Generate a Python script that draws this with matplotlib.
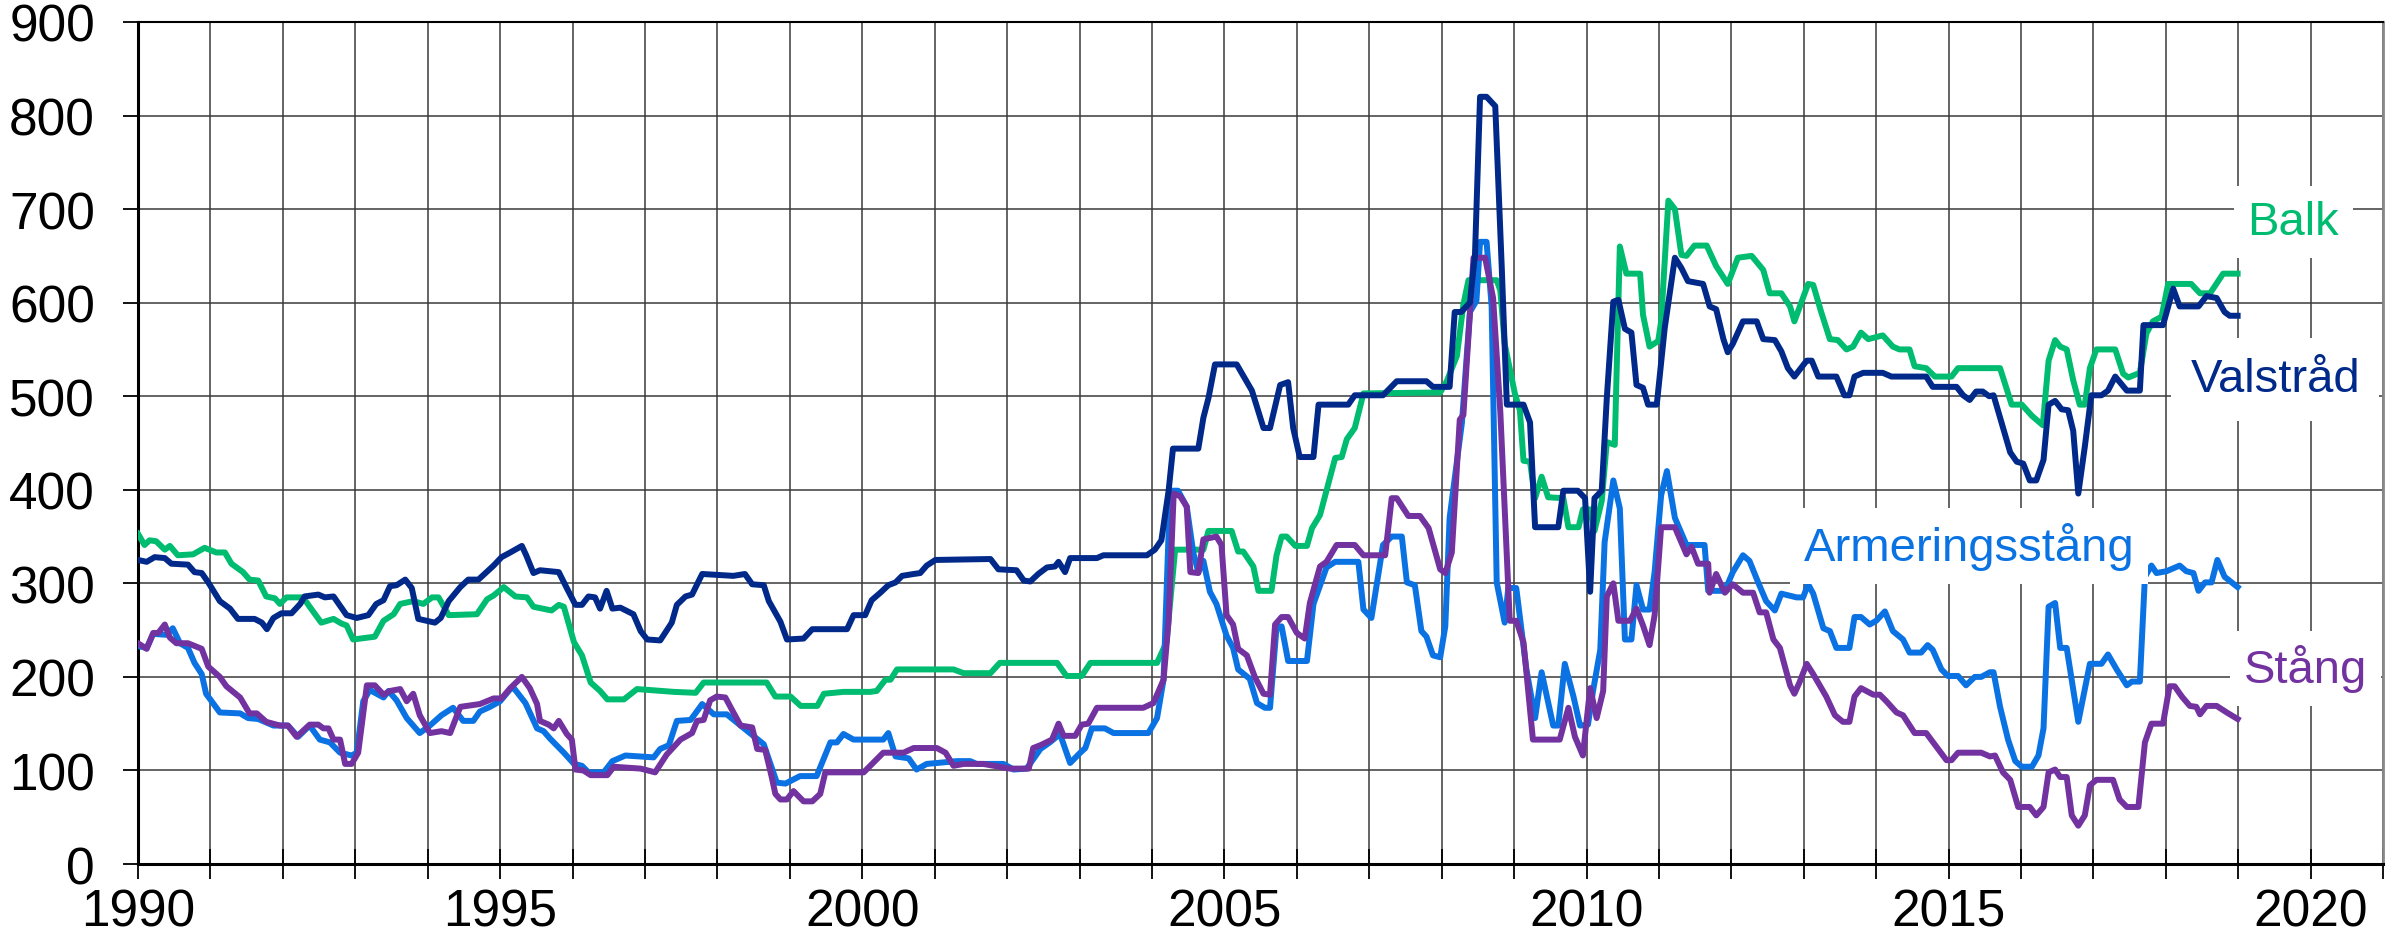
import numpy as np
import matplotlib
matplotlib.use('Agg')
import matplotlib.pyplot as plt
from matplotlib.ticker import MultipleLocator

plt.rcParams['font.family'] = ['Liberation Sans', 'DejaVu Sans']

# Balk
balk_x = [1990.00, 1990.09, 1990.16, 1990.25, 1990.37, 1990.44, 1990.55, 1990.76, 1990.92, 1991.08,
          1991.20, 1991.29, 1991.45, 1991.54, 1991.66, 1991.77, 1991.89, 1991.96, 1992.05, 1992.28,
          1992.37, 1992.53, 1992.70, 1992.81, 1992.88, 1992.97, 1993.27, 1993.39, 1993.53, 1993.62,
          1993.80, 1993.94, 1994.06, 1994.15, 1994.29, 1994.68, 1994.82, 1994.91, 1995.05, 1995.21,
          1995.37, 1995.46, 1995.71, 1995.81, 1995.88, 1996.02, 1996.13, 1996.25, 1996.38, 1996.48,
          1996.71, 1996.89, 1997.40, 1997.70, 1997.81, 1998.68, 1998.80, 1999.01, 1999.15, 1999.38,
          1999.47, 1999.74, 2000.11, 2000.20, 2000.32, 2000.39, 2000.48, 2001.26, 2001.40, 2001.77,
          2001.90, 2002.69, 2002.82, 2003.03, 2003.15, 2004.07, 2004.20, 2004.32, 2004.71, 2004.78,
          2005.10, 2005.19, 2005.26, 2005.40, 2005.47, 2005.65, 2005.72, 2005.79, 2005.86, 2005.98,
          2006.14, 2006.21, 2006.32, 2006.41, 2006.53, 2006.62, 2006.69, 2006.80, 2006.92, 2007.98,
          2008.07, 2008.21, 2008.30, 2008.37, 2008.76, 2008.81, 2008.87, 2009.01, 2009.08, 2009.13,
          2009.22, 2009.29, 2009.38, 2009.47, 2009.68, 2009.75, 2009.89, 2009.95, 2010.05, 2010.11,
          2010.21, 2010.28, 2010.39, 2010.46, 2010.55, 2010.74, 2010.78, 2010.87, 2010.99, 2011.03,
          2011.13, 2011.22, 2011.31, 2011.38, 2011.49, 2011.66, 2011.79, 2011.95, 2012.09, 2012.28,
          2012.44, 2012.53, 2012.69, 2012.81, 2012.87, 2013.06, 2013.13, 2013.24, 2013.36, 2013.47,
          2013.59, 2013.68, 2013.79, 2013.89, 2014.09, 2014.23, 2014.32, 2014.46, 2014.53, 2014.69,
          2014.81, 2015.04, 2015.13, 2015.71, 2015.87, 2016.01, 2016.15, 2016.30, 2016.38, 2016.47,
          2016.54, 2016.63, 2016.72, 2016.81, 2016.88, 2016.95, 2017.04, 2017.30, 2017.41, 2017.48,
          2017.64, 2017.73, 2017.82, 2017.94, 2018.03, 2018.35, 2018.47, 2018.61, 2018.79, 2018.99]
balk_y = [353, 341, 346, 345, 336, 340, 330, 331, 338, 333,
          333, 321, 312, 304, 303, 286, 284, 278, 285, 285,
          275, 258, 262, 257, 255, 240, 243, 260, 267, 278,
          281, 278, 285, 285, 266, 267, 283, 287, 296, 286,
          285, 275, 271, 277, 275, 237, 223, 194, 185, 176,
          176, 187, 184, 183, 194, 194, 179, 179, 169, 169,
          182, 184, 184, 185, 197, 197, 208, 208, 204, 204,
          215, 215, 201, 201, 215, 215, 237, 336, 336, 356,
          356, 334, 334, 318, 292, 292, 330, 350, 350, 340,
          340, 359, 373, 399, 434, 435, 454, 466, 503, 504,
          516, 543, 598, 624, 624, 613, 556, 503, 485, 431,
          430, 391, 414, 392, 391, 360, 360, 379, 379, 356,
          388, 451, 448, 660, 631, 631, 587, 553, 559, 580,
          709, 700, 651, 650, 661, 661, 639, 620, 648, 650,
          635, 610, 610, 596, 580, 620, 619, 590, 561, 560,
          550, 553, 568, 561, 565, 553, 550, 550, 532, 530,
          521, 521, 530, 530, 491, 491, 479, 469, 538, 560,
          553, 550, 517, 491, 491, 530, 550, 550, 524, 520,
          525, 567, 580, 585, 620, 620, 610, 610, 631, 631]

# Valstråd
vals_x = [1990.00, 1990.12, 1990.23, 1990.37, 1990.46, 1990.69, 1990.78, 1990.88, 1990.97, 1991.13,
          1991.27, 1991.38, 1991.61, 1991.71, 1991.78, 1991.87, 1991.98, 1992.12, 1992.24, 1992.30,
          1992.49, 1992.58, 1992.70, 1992.88, 1993.02, 1993.18, 1993.29, 1993.39, 1993.48, 1993.57,
          1993.69, 1993.78, 1993.87, 1994.10, 1994.18, 1994.29, 1994.45, 1994.56, 1994.70, 1994.91,
          1995.02, 1995.14, 1995.30, 1995.36, 1995.46, 1995.55, 1995.81, 1995.92, 1996.04, 1996.13,
          1996.22, 1996.31, 1996.38, 1996.47, 1996.55, 1996.66, 1996.84, 1996.94, 1997.03, 1997.21,
          1997.37, 1997.44, 1997.56, 1997.65, 1997.79, 1998.22, 1998.38, 1998.48, 1998.64, 1998.71,
          1998.87, 1998.96, 1999.19, 1999.31, 1999.79, 1999.88, 2000.04, 2000.13, 2000.25, 2000.36,
          2000.46, 2000.55, 2000.71, 2000.80, 2000.89, 2001.01, 2001.77, 2001.88, 2002.13, 2002.23,
          2002.32, 2002.43, 2002.55, 2002.66, 2002.71, 2002.80, 2002.87, 2003.24, 2003.33, 2003.93,
          2004.04, 2004.13, 2004.23, 2004.29, 2004.64, 2004.71, 2004.78, 2004.87, 2005.17, 2005.38,
          2005.54, 2005.63, 2005.77, 2005.88, 2005.95, 2006.04, 2006.23, 2006.30, 2006.71, 2006.80,
          2007.19, 2007.38, 2007.79, 2007.88, 2008.11, 2008.18, 2008.27, 2008.39, 2008.46, 2008.53,
          2008.62, 2008.74, 2008.83, 2008.90, 2009.13, 2009.22, 2009.29, 2009.61, 2009.68, 2009.88,
          2009.98, 2010.05, 2010.11, 2010.21, 2010.28, 2010.37, 2010.44, 2010.53, 2010.62, 2010.69,
          2010.78, 2010.85, 2010.97, 2011.08, 2011.22, 2011.31, 2011.40, 2011.61, 2011.70, 2011.79,
          2011.89, 2011.95, 2012.02, 2012.16, 2012.35, 2012.44, 2012.60, 2012.69, 2012.78, 2012.87,
          2013.04, 2013.11, 2013.20, 2013.45, 2013.56, 2013.63, 2013.70, 2013.82, 2014.09, 2014.21,
          2014.69, 2014.78, 2015.11, 2015.20, 2015.29, 2015.38, 2015.47, 2015.56, 2015.62, 2015.73,
          2015.85, 2015.94, 2016.03, 2016.12, 2016.21, 2016.31, 2016.38, 2016.47, 2016.56, 2016.65,
          2016.72, 2016.79, 2016.88, 2016.97, 2017.11, 2017.20, 2017.30, 2017.46, 2017.64, 2017.69,
          2017.96, 2018.10, 2018.19, 2018.45, 2018.56, 2018.70, 2018.81, 2018.88, 2018.99]
vals_y = [325, 323, 328, 327, 321, 320, 312, 311, 301, 281,
          273, 262, 262, 258, 251, 263, 268, 268, 278, 286,
          288, 285, 286, 266, 263, 266, 278, 282, 297, 298,
          304, 295, 262, 258, 263, 281, 296, 304, 304, 319,
          328, 333, 340, 330, 311, 314, 312, 295, 277, 277,
          286, 285, 273, 292, 273, 274, 267, 249, 240, 239,
          258, 277, 286, 288, 310, 308, 310, 299, 298, 281,
          259, 240, 241, 251, 251, 266, 266, 282, 290, 298,
          301, 308, 310, 311, 319, 325, 326, 315, 314, 303,
          302, 310, 317, 318, 323, 312, 327, 327, 330, 330,
          336, 346, 399, 444, 444, 477, 498, 534, 534, 506,
          466, 466, 512, 515, 466, 435, 435, 491, 491, 501,
          501, 516, 516, 510, 510, 590, 590, 600, 651, 820,
          820, 810, 637, 491, 491, 472, 360, 360, 399, 399,
          391, 291, 391, 399, 498, 601, 603, 572, 568, 512,
          509, 491, 491, 573, 648, 637, 623, 620, 596, 593,
          561, 547, 556, 580, 580, 561, 560, 548, 530, 521,
          538, 538, 521, 521, 501, 501, 521, 525, 525, 521,
          521, 510, 510, 501, 496, 505, 505, 500, 501, 472,
          440, 430, 428, 410, 410, 432, 491, 495, 486, 485,
          463, 396, 446, 501, 501, 506, 521, 506, 506, 576,
          576, 615, 596, 596, 607, 605, 590, 586, 586]

# Armeringsstång
arm_x = [1990.00, 1990.12, 1990.21, 1990.39, 1990.48, 1990.58, 1990.69, 1990.78, 1990.88, 1990.94,
         1991.13, 1991.41, 1991.52, 1991.66, 1991.87, 1992.07, 1992.21, 1992.37, 1992.51, 1992.65,
         1992.79, 1992.95, 1993.02, 1993.11, 1993.20, 1993.39, 1993.46, 1993.57, 1993.71, 1993.89,
         1994.03, 1994.19, 1994.35, 1994.49, 1994.63, 1994.72, 1994.86, 1995.00, 1995.14, 1995.19,
         1995.35, 1995.51, 1995.60, 1995.69, 1995.88, 1996.02, 1996.13, 1996.22, 1996.43, 1996.55,
         1996.73, 1997.12, 1997.21, 1997.33, 1997.44, 1997.63, 1997.79, 1997.95, 1998.13, 1998.32,
         1998.64, 1998.82, 1998.94, 1999.14, 1999.37, 1999.56, 1999.65, 1999.74, 1999.88, 2000.29,
         2000.36, 2000.46, 2000.64, 2000.75, 2000.89, 2001.31, 2001.49, 2001.58, 2001.95, 2002.09,
         2002.27, 2002.46, 2002.59, 2002.73, 2002.87, 2003.01, 2003.08, 2003.17, 2003.35, 2003.47,
         2003.95, 2004.07, 2004.16, 2004.25, 2004.36, 2004.48, 2004.57, 2004.64, 2004.71, 2004.80,
         2004.89, 2005.03, 2005.12, 2005.19, 2005.35, 2005.45, 2005.56, 2005.63, 2005.72, 2005.79,
         2005.88, 2006.14, 2006.23, 2006.41, 2006.53, 2006.85, 2006.92, 2007.03, 2007.19, 2007.31,
         2007.45, 2007.52, 2007.63, 2007.72, 2007.79, 2007.88, 2007.98, 2008.05, 2008.11, 2008.28,
         2008.39, 2008.48, 2008.53, 2008.62, 2008.69, 2008.76, 2008.87, 2008.92, 2009.03, 2009.17,
         2009.29, 2009.38, 2009.54, 2009.61, 2009.70, 2009.82, 2009.91, 2010.02, 2010.09, 2010.19,
         2010.25, 2010.37, 2010.46, 2010.53, 2010.62, 2010.69, 2010.78, 2010.87, 2010.94, 2011.03,
         2011.11, 2011.22, 2011.38, 2011.63, 2011.68, 2011.91, 2012.02, 2012.16, 2012.25, 2012.37,
         2012.48, 2012.60, 2012.69, 2012.90, 2012.99, 2013.06, 2013.13, 2013.27, 2013.36, 2013.45,
         2013.63, 2013.70, 2013.79, 2013.91, 2014.00, 2014.12, 2014.23, 2014.37, 2014.46, 2014.62,
         2014.71, 2014.78, 2014.90, 2014.99, 2015.13, 2015.24, 2015.36, 2015.45, 2015.57, 2015.62,
         2015.71, 2015.82, 2015.92, 2016.01, 2016.15, 2016.24, 2016.31, 2016.38, 2016.47, 2016.54,
         2016.63, 2016.79, 2016.95, 2017.11, 2017.20, 2017.32, 2017.46, 2017.53, 2017.64, 2017.71,
         2017.80, 2017.87, 2018.01, 2018.19, 2018.28, 2018.38, 2018.45, 2018.54, 2018.63, 2018.71,
         2018.81, 2018.99]
arm_y = [233, 231, 246, 245, 252, 236, 231, 215, 203, 182,
         162, 161, 156, 155, 148, 148, 136, 148, 133, 130,
         119, 116, 119, 174, 186, 178, 185, 175, 156, 140,
         148, 159, 167, 153, 153, 163, 168, 174, 187, 188,
         172, 145, 142, 134, 119, 107, 105, 98, 98, 110,
         116, 114, 123, 127, 153, 154, 171, 160, 160, 148,
         128, 87, 86, 94, 94, 130, 130, 139, 133, 133,
         140, 115, 113, 101, 107, 110, 110, 107, 107, 101,
         102, 123, 130, 139, 108, 119, 124, 145, 145, 140,
         140, 156, 197, 399, 399, 382, 333, 312, 324, 291,
         278, 244, 231, 208, 198, 172, 167, 167, 253, 254,
         217, 217, 278, 317, 323, 323, 272, 263, 341, 350,
         350, 301, 298, 249, 243, 223, 221, 254, 370, 472,
         590, 602, 665, 665, 596, 301, 258, 295, 295, 208,
         156, 205, 148, 148, 214, 179, 148, 149, 185, 229,
         344, 410, 380, 240, 240, 298, 272, 272, 312, 394,
         420, 370, 341, 341, 292, 292, 312, 330, 324, 301,
         281, 271, 289, 285, 285, 299, 289, 252, 249, 231,
         231, 264, 264, 256, 260, 270, 249, 240, 226, 226,
         234, 229, 208, 201, 201, 191, 200, 200, 205, 205,
         168, 133, 110, 104, 104, 116, 145, 275, 279, 231,
         231, 152, 214, 214, 224, 208, 191, 195, 195, 307,
         319, 311, 313, 319, 313, 311, 292, 301, 301, 325,
         307, 296]

# Stång
stang_x = [1990.00, 1990.12, 1990.21, 1990.28, 1990.37, 1990.44, 1990.53, 1990.69, 1990.88, 1990.97,
           1991.13, 1991.22, 1991.41, 1991.54, 1991.64, 1991.77, 1991.96, 1992.07, 1992.19, 1992.37,
           1992.49, 1992.56, 1992.63, 1992.70, 1992.79, 1992.86, 1992.95, 1993.04, 1993.16, 1993.27,
           1993.39, 1993.48, 1993.62, 1993.71, 1993.80, 1993.89, 1994.03, 1994.19, 1994.31, 1994.45,
           1994.72, 1994.91, 1995.02, 1995.14, 1995.30, 1995.41, 1995.51, 1995.55, 1995.67, 1995.74,
           1995.81, 1995.92, 1995.99, 1996.04, 1996.15, 1996.25, 1996.48, 1996.57, 1996.94, 1997.14,
           1997.30, 1997.49, 1997.65, 1997.72, 1997.81, 1997.90, 1997.99, 1998.11, 1998.20, 1998.32,
           1998.48, 1998.55, 1998.66, 1998.75, 1998.80, 1998.87, 1998.96, 1999.05, 1999.19, 1999.31,
           1999.42, 1999.49, 2000.02, 2000.11, 2000.25, 2000.29, 2000.57, 2000.71, 2001.03, 2001.15,
           2001.26, 2001.40, 2001.67, 2002.04, 2002.30, 2002.36, 2002.46, 2002.62, 2002.71, 2002.78,
           2002.94, 2003.03, 2003.12, 2003.24, 2003.88, 2004.02, 2004.16, 2004.23, 2004.30, 2004.39,
           2004.48, 2004.53, 2004.64, 2004.71, 2004.89, 2004.96, 2005.03, 2005.12, 2005.19, 2005.31,
           2005.42, 2005.54, 2005.63, 2005.70, 2005.79, 2005.88, 2006.00, 2006.11, 2006.18, 2006.32,
           2006.41, 2006.55, 2006.80, 2006.92, 2007.22, 2007.31, 2007.38, 2007.54, 2007.70, 2007.82,
           2007.98, 2008.05, 2008.14, 2008.25, 2008.30, 2008.44, 2008.60, 2008.71, 2008.81, 2008.94,
           2009.03, 2009.13, 2009.26, 2009.63, 2009.75, 2009.84, 2009.95, 2010.05, 2010.14, 2010.23,
           2010.28, 2010.37, 2010.44, 2010.60, 2010.69, 2010.78, 2010.87, 2010.94, 2011.03, 2011.22,
           2011.38, 2011.45, 2011.54, 2011.68, 2011.70, 2011.79, 2011.91, 2012.02, 2012.16, 2012.30,
           2012.39, 2012.48, 2012.58, 2012.67, 2012.81, 2012.87, 2012.94, 2013.04, 2013.13, 2013.22,
           2013.31, 2013.43, 2013.54, 2013.63, 2013.70, 2013.79, 2013.96, 2014.05, 2014.14, 2014.28,
           2014.37, 2014.53, 2014.69, 2014.97, 2015.04, 2015.13, 2015.45, 2015.57, 2015.64, 2015.75,
           2015.85, 2015.96, 2016.12, 2016.21, 2016.31, 2016.38, 2016.47, 2016.54, 2016.63, 2016.70,
           2016.79, 2016.88, 2016.95, 2017.04, 2017.27, 2017.36, 2017.46, 2017.62, 2017.71, 2017.80,
           2017.96, 2018.05, 2018.12, 2018.22, 2018.33, 2018.42, 2018.47, 2018.56, 2018.70, 2018.84,
           2018.99]
stang_y = [236, 230, 247, 247, 256, 242, 236, 236, 230, 211,
           200, 190, 178, 161, 161, 152, 148, 148, 136, 149,
           149, 145, 145, 133, 133, 107, 107, 119, 191, 191,
           181, 185, 187, 174, 182, 159, 140, 142, 140, 168,
           171, 177, 177, 188, 200, 188, 171, 153, 149, 145,
           153, 139, 133, 101, 100, 95, 95, 104, 102, 98,
           117, 133, 140, 153, 154, 175, 179, 178, 165, 148,
           146, 123, 122, 93, 75, 69, 69, 78, 67, 67,
           75, 98, 98, 105, 116, 119, 119, 124, 124, 119,
           105, 107, 107, 102, 102, 124, 127, 133, 150, 137,
           137, 149, 150, 167, 167, 172, 197, 260, 396, 393,
           382, 312, 311, 347, 350, 341, 266, 256, 230, 223,
           200, 182, 181, 256, 264, 264, 247, 241, 279, 318,
           323, 341, 341, 330, 330, 391, 391, 372, 372, 359,
           315, 311, 333, 475, 480, 648, 648, 605, 483, 260,
           260, 237, 133, 133, 167, 136, 116, 188, 156, 185,
           286, 300, 260, 260, 273, 255, 234, 266, 360, 360,
           331, 339, 321, 321, 290, 310, 290, 299, 290, 290,
           269, 269, 240, 231, 191, 182, 194, 214, 203, 191,
           179, 159, 152, 152, 179, 188, 181, 181, 174, 162,
           159, 140, 140, 111, 111, 119, 119, 115, 116, 98,
           90, 61, 61, 52, 61, 98, 101, 93, 93, 52,
           41, 52, 84, 90, 90, 69, 61, 61, 130, 150,
           150, 190, 190, 179, 169, 168, 160, 169, 169, 162,
           155]

fig = plt.figure(figsize=(24, 9.37), dpi=100)
ax = fig.add_axes([0.0575, 0.0768, 0.9355, 0.8987])

lw = 4.3
ax.plot(balk_x, balk_y, color='#00BC70', lw=lw, solid_joinstyle='round', zorder=3)
ax.plot(vals_x, vals_y, color='#00298A', lw=lw, solid_joinstyle='round', zorder=4)
ax.plot(arm_x, arm_y, color='#0A72E2', lw=lw, solid_joinstyle='round', zorder=3)
ax.plot(stang_x, stang_y, color='#7232A0', lw=lw, solid_joinstyle='round', zorder=3)

ax.set_xlim(1990, 2021)
ax.set_ylim(0, 900)
ax.xaxis.set_major_locator(MultipleLocator(5))
ax.xaxis.set_minor_locator(MultipleLocator(1))
ax.yaxis.set_major_locator(MultipleLocator(100))
ax.grid(True, which='both', color='#3a3a3a', lw=1.1, zorder=0)
ax.set_axisbelow(True)

ax.tick_params(axis='both', labelsize=37, colors='black')
ax.tick_params(axis='y', direction='out', length=11, width=1.3, pad=20)
ax.tick_params(axis='x', which='both', direction='inout', length=22, width=1.3, pad=6)

for s in ['left', 'bottom']:
    ax.spines[s].set_linewidth(2.2)
    ax.spines[s].set_color('black')
ax.spines['top'].set_linewidth(1.5)
ax.spines['right'].set_linewidth(2.0)
ax.spines['right'].set_color('#888888')

box = dict(facecolor='white', edgecolor='none', pad=10)
ax.text(2019.76, 686, 'Balk', color='#00BC70', fontsize=34, ha='center', va='center', bbox=box, zorder=5)
ax.text(2019.51, 518, 'Valstråd', color='#00298A', fontsize=34, ha='center', va='center',
        bbox=dict(facecolor='white', edgecolor='none', pad=14), zorder=5)
ax.text(2015.28, 340, 'Armeringsstång', color='#0A72E2', fontsize=34, ha='center', va='center', bbox=box, zorder=5)
ax.text(2019.93, 209, 'Stång', color='#7232A0', fontsize=34, ha='center', va='center', bbox=box, zorder=5)

fig.savefig('out.png', dpi=100)
